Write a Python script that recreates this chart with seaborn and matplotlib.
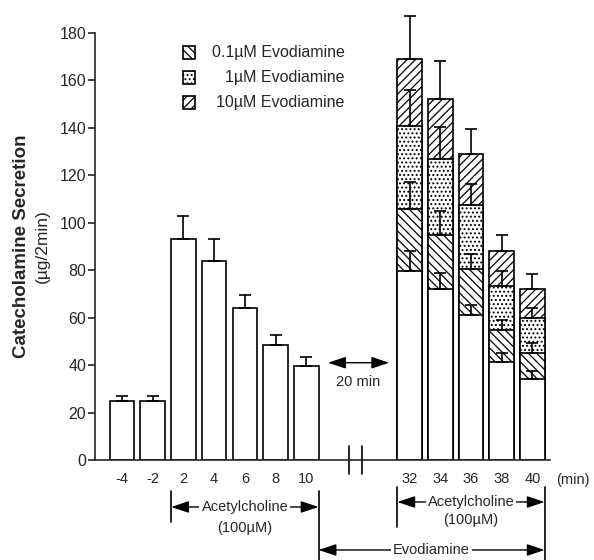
import numpy as np
import pandas as pd
import matplotlib
matplotlib.use("Agg")
import matplotlib.pyplot as plt
import matplotlib.transforms as mtransforms
from matplotlib.patches import Rectangle
import seaborn as sns

# time points (min) before / during the first acetylcholine stimulation
pre_labels = ["-4", "-2", "2", "4", "6", "8", "10"]
pre_mean = [25, 25, 93, 84, 64, 48.5, 39.5]
pre_sem = [2, 2, 10, 9, 5.5, 4, 4]

# second acetylcholine stimulation, in presence of evodiamine
post_labels = ["32", "34", "36", "38", "40"]
control_mean = [79.5, 72, 61, 41.5, 34]
control_sem = [8.5, 7, 4.5, 3.5, 3.5]
evo01_mean = [106, 95, 80.5, 55, 45]
evo01_sem = [11, 10, 6.5, 4, 4.5]
evo1_mean = [141, 127, 107.5, 73.5, 60]
evo1_sem = [15, 13.5, 9, 6, 4]
evo10_mean = [169, 152, 129, 88, 72]
evo10_sem = [18, 16, 10.5, 7, 6.5]

legend_labels = ["0.1\u00b5M Evodiamine", "1\u00b5M Evodiamine", "10\u00b5M Evodiamine"]
hatches = ["\\\\\\\\", "....", "////"]

sns.set_style("ticks")
plt.rcParams["font.family"] = ["Liberation Sans", "DejaVu Sans"]
plt.rcParams["hatch.linewidth"] = 0.9

GAP = 3.365
x_pre = np.arange(len(pre_labels), dtype=float)
x_post = np.arange(len(post_labels), dtype=float) + len(pre_labels) - 1 + GAP

fig = plt.figure(figsize=(5.94, 5.6), dpi=100)
ax = fig.add_axes([0.16, 0.1786, 0.766, 0.7625])

bar_kw = dict(color="white", edgecolor="black", linewidth=1.2, saturation=1,
              native_scale=True, orient="x", errorbar=None, ax=ax)

sns.barplot(x=x_pre, y=pre_mean, **bar_kw)

# overlapping bars, tallest first
layers = [(evo10_mean, hatches[2]), (evo1_mean, hatches[1]),
          (evo01_mean, hatches[0]), (control_mean, None)]
for vals, h in layers:
    sns.barplot(x=x_post, y=vals, hatch=h, **bar_kw)

err_kw = dict(fmt="none", ecolor="black", elinewidth=1.2, capsize=4.5, capthick=1.2,
              zorder=10, clip_on=False)
ax.errorbar(x_pre, pre_mean, yerr=[np.zeros(len(pre_mean)), pre_sem], **err_kw)
for vals, sem in [(evo10_mean, evo10_sem), (evo1_mean, evo1_sem),
                  (evo01_mean, evo01_sem), (control_mean, control_sem)]:
    ax.errorbar(x_post, vals, yerr=[np.zeros(len(vals)), sem], **err_kw)

ax.set_xlim(-0.88, 13.94)
ax.set_ylim(0, 180)
ax.set_yticks(np.arange(0, 181, 20))
ax.set_xticks(np.concatenate([x_pre, x_post]))
ax.set_xticklabels(pre_labels + post_labels)
ax.tick_params(axis="x", length=0, pad=9, labelsize=10.5)
ax.tick_params(axis="y", length=5, width=1.2, pad=1.5, labelsize=11.5)
ax.set_xlabel("")
ax.set_ylabel("")
for s in ["top", "right"]:
    ax.spines[s].set_visible(False)
for s in ["left", "bottom"]:
    ax.spines[s].set_linewidth(1.2)

fig.text(0.037, 0.561, "Catecholamine Secretion", rotation=90, ha="center", va="center",
         fontsize=13.5, fontweight="bold")
fig.text(0.071, 0.561, "(\u00b5g/2min)", rotation=90, ha="center", va="center", fontsize=12.5)

blend = mtransforms.blended_transform_factory(ax.transData, ax.transAxes)

def fy(py):
    # pixel row -> axes fraction
    return (460 - py) / 427

# axis break
for xb in [7.39, 7.82]:
    ax.plot([xb, xb], [-0.032, 0.032], transform=blend, clip_on=False, color="black", lw=1.2)

ax.text(14.69, fy(473), "(min)", transform=blend, ha="center", va="top", fontsize=10.5)

arrow = dict(arrowstyle="<|-|>,head_length=0.9,head_width=0.3", color="black", lw=1.0,
             shrinkA=0, shrinkB=0, mutation_scale=12)

def vline(x, y0, y1):
    ax.plot([x, x], [fy(y0), fy(y1)], transform=blend, clip_on=False, color="black", lw=1.2)

def bracket(x0, x1, yarr, ytxt, label, sub):
    ax.annotate("", xy=(x0, fy(yarr)), xytext=(x1, fy(yarr)), xycoords=blend,
                textcoords=blend, arrowprops=arrow, annotation_clip=False)
    ax.text((x0 + x1) / 2, fy(yarr), label, transform=blend, ha="center", va="center",
            fontsize=10.5, bbox=dict(fc="white", ec="none", pad=1.5), zorder=5)
    if sub:
        ax.text((x0 + x1) / 2, fy(ytxt), sub, transform=blend, ha="center", va="center",
                fontsize=10.5)

# first acetylcholine period
a0, a1 = x_pre[2] - 0.4, x_pre[-1] + 0.4
vline(a0, 491, 522)
vline(a1, 491, 560)
bracket(a0, a1, 507, 528, "Acetylcholine", "(100\u00b5M)")

# second acetylcholine period
b0, b1 = x_post[0] - 0.4, x_post[-1] + 0.4
vline(b0, 487, 527)
vline(b1, 487, 560)
bracket(b0, b1, 502, 520, "Acetylcholine", "(100\u00b5M)")

# evodiamine period
bracket(a1, b1, 550, None, "Evodiamine", None)

# 20 min gap
ax.annotate("", xy=(6.71, 41), xytext=(8.7, 41), arrowprops=arrow, annotation_clip=False)
ax.text(7.7, 33, "20 min", ha="center", va="center", fontsize=10.5)

# legend
for i, (lab, h) in enumerate(zip(legend_labels, hatches)):
    cy = fy(52.5 + 25 * i)
    ax.add_patch(Rectangle((0.193, cy - 0.015), 0.027, 0.030, transform=ax.transAxes,
                           facecolor="white", edgecolor="black", lw=1.2, hatch=h))
    ax.text(0.549, cy, lab, transform=ax.transAxes, ha="right", va="center", fontsize=11.5)

fig.savefig("out.png", dpi=100)
